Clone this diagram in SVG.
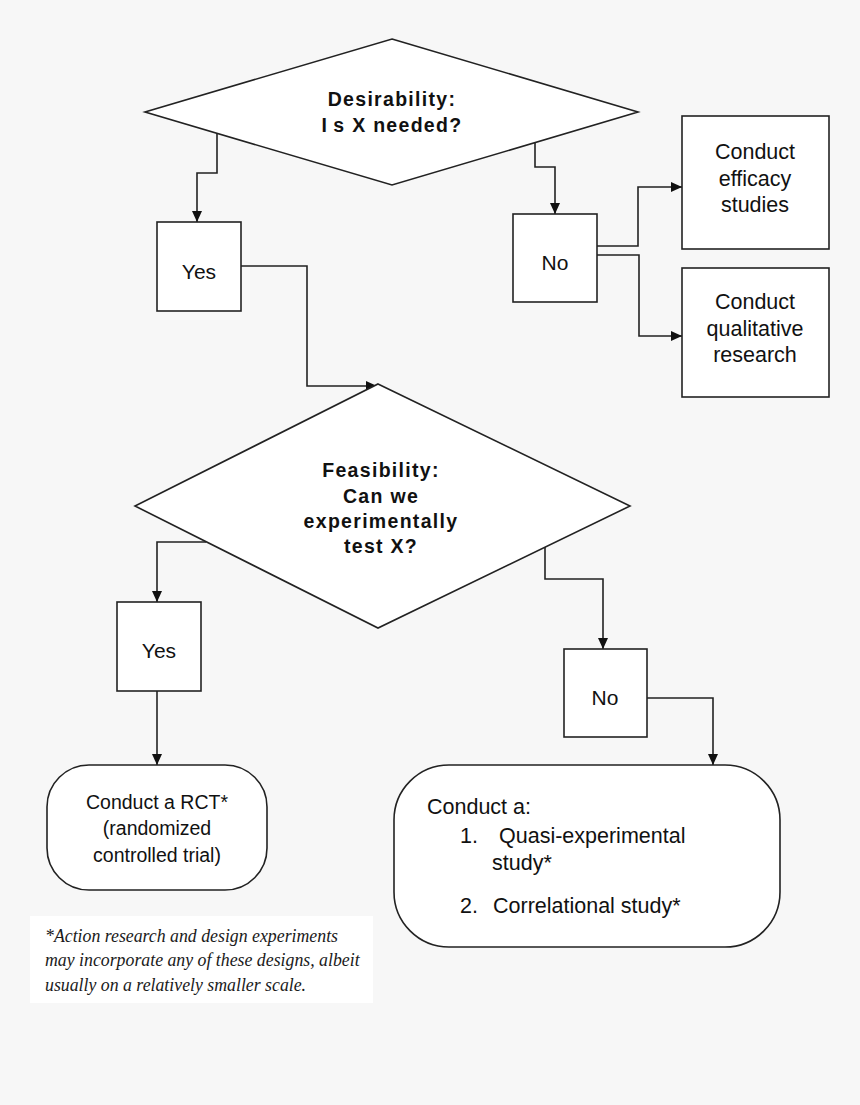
<svg xmlns="http://www.w3.org/2000/svg" width="860" height="1105" viewBox="0 0 860 1105">
  <defs>
    <marker id="arr" markerUnits="userSpaceOnUse" markerWidth="12" markerHeight="10" refX="11" refY="5" orient="auto">
      <path d="M0,0 L11,5 L0,10 Z" fill="#111"/>
    </marker>
    <style>
      .shape { fill: #ffffff; stroke: #222; stroke-width: 1.6; }
      .conn { fill: none; stroke: #222; stroke-width: 1.6; marker-end: url(#arr); }
      .t { font-family: "Liberation Sans", Arial, sans-serif; font-size: 21px; fill: #111; }
      .s { font-size: 19.5px; }
      .l { font-size: 21.5px; }
      .c { text-anchor: middle; }
      .b { font-family: "Liberation Sans", Arial, sans-serif; font-size: 19.5px; font-weight: bold; letter-spacing: 1.3px; fill: #111; text-anchor: middle; }
      .note { font-family: "Liberation Serif", "Times New Roman", serif; font-style: italic; font-size: 17.8px; fill: #1a1a1a; }
    </style>
  </defs>
  <rect x="0" y="0" width="860" height="1105" fill="#f7f7f7"/>

  <g id="connectors">
    <path class="conn" d="M217,133 V173 H197 V222"/>
    <path class="conn" d="M535,143 V167 H555 V214"/>
    <path class="conn" d="M597,246 H638 V187 H682"/>
    <path class="conn" d="M597,255 H639 V336 H682"/>
    <path class="conn" d="M241,266 H307 V386 H377"/>
    <path class="conn" d="M206,542 H157 V602"/>
    <path class="conn" d="M545,547 V579 H603 V649"/>
    <path class="conn" d="M157,691 V765"/>
    <path class="conn" d="M647,698 H713 V765"/>
  </g>

  <g id="desirability">
    <polygon class="shape" points="392,39 638,112 392,185 145,112"/>
    <text class="b" x="392" y="106">Desirability:</text>
    <text class="b" x="392" y="132">I<tspan dx="5">s X needed?</tspan></text>
  </g>

  <g id="yes1">
    <rect class="shape" x="157" y="222" width="84" height="89"/>
    <text class="t c" x="199" y="279">Yes</text>
  </g>

  <g id="no1">
    <rect class="shape" x="513" y="214" width="84" height="88"/>
    <text class="t c" x="555" y="270">No</text>
  </g>

  <g id="efficacy">
    <rect class="shape" x="682" y="116" width="147" height="133"/>
    <text class="t l c" x="755" y="159">Conduct</text>
    <text class="t l c" x="755" y="186">efficacy</text>
    <text class="t l c" x="755" y="212">studies</text>
  </g>

  <g id="qualitative">
    <rect class="shape" x="682" y="268" width="147" height="129"/>
    <text class="t l c" x="755" y="309">Conduct</text>
    <text class="t l c" x="755" y="336">qualitative</text>
    <text class="t l c" x="755" y="362">research</text>
  </g>

  <g id="feasibility">
    <polygon class="shape" points="378,384 630,506 378,628 135,506"/>
    <text class="b" x="381" y="477">Feasibility:</text>
    <text class="b" x="381" y="503">Can we</text>
    <text class="b" x="381" y="528">experimentally</text>
    <text class="b" x="381" y="553">test X?</text>
  </g>

  <g id="yes2">
    <rect class="shape" x="117" y="602" width="84" height="89"/>
    <text class="t c" x="159" y="658">Yes</text>
  </g>

  <g id="no2">
    <rect class="shape" x="564" y="649" width="83" height="88"/>
    <text class="t c" x="605" y="705">No</text>
  </g>

  <g id="rct">
    <rect class="shape" x="47" y="765" width="220" height="125" rx="42" ry="42"/>
    <text class="t s c" x="157" y="809">Conduct a RCT*</text>
    <text class="t s c" x="157" y="835">(randomized</text>
    <text class="t s c" x="157" y="862">controlled trial)</text>
  </g>

  <g id="quasi">
    <rect class="shape" x="394" y="765" width="386" height="182" rx="55" ry="55"/>
    <text class="t l" x="427" y="814">Conduct a:</text>
    <text class="t l" x="460" y="843">1.</text>
    <text class="t l" x="499" y="843">Quasi-experimental</text>
    <text class="t l" x="492" y="870">study*</text>
    <text class="t l" x="460" y="913">2.</text>
    <text class="t l" x="493" y="913">Correlational study*</text>
  </g>

  <g id="footnote">
    <rect x="30" y="916" width="343" height="87" fill="#ffffff"/>
    <text class="note" x="45" y="942">*Action research and design experiments</text>
    <text class="note" x="45" y="966">may incorporate any of these designs, albeit</text>
    <text class="note" x="45" y="991">usually on a relatively smaller scale.</text>
  </g>
</svg>
